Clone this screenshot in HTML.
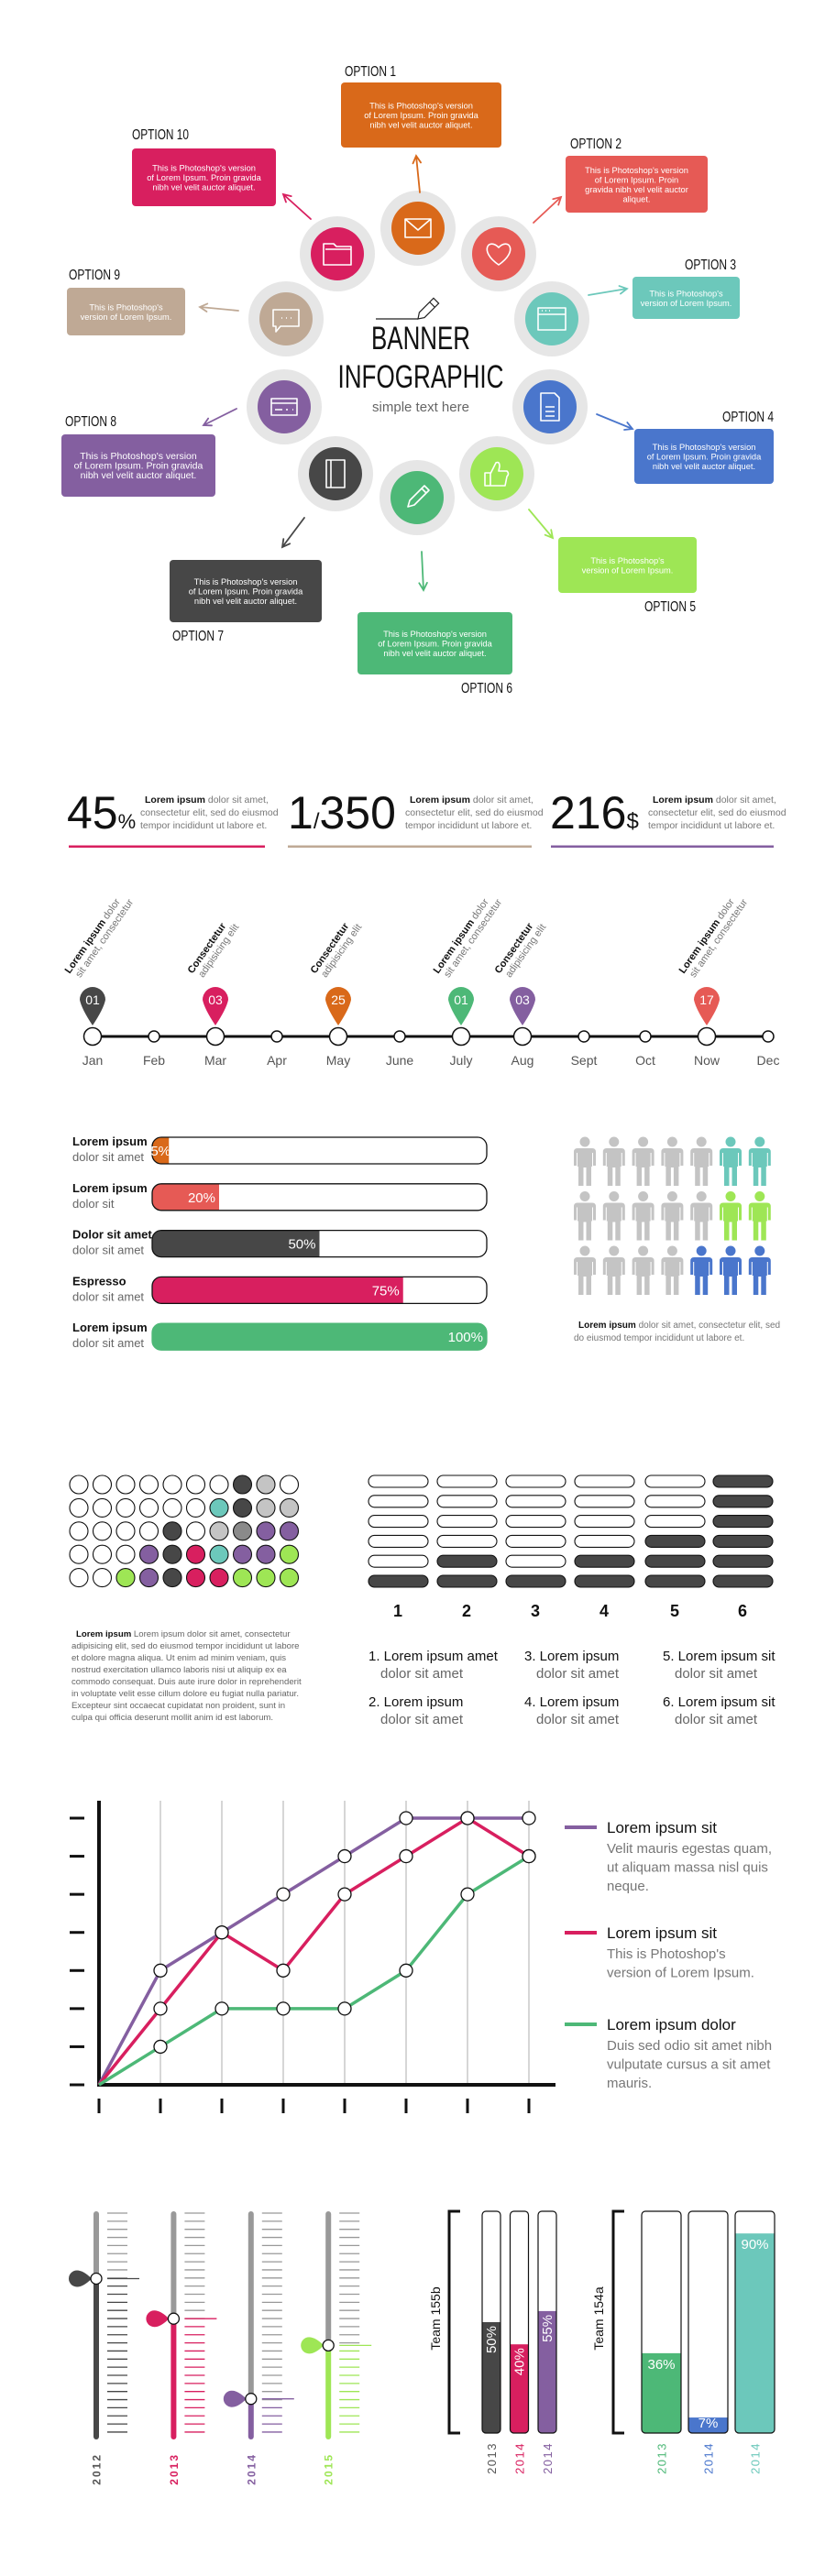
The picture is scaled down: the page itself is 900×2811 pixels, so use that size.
<!DOCTYPE html>
<html><head><meta charset="utf-8"><title>Banner Infographic</title>
<style>
html,body{margin:0;padding:0;background:#fff;}
body{width:900px;height:2811px;overflow:hidden;}
svg{display:block;font-family:"Liberation Sans",sans-serif;}
.nar{font-family:"Liberation Sans Narrow","Liberation Sans",sans-serif;}
</style></head>
<body>
<svg id="root" width="900" height="2811" viewBox="0 0 900 2811" xmlns="http://www.w3.org/2000/svg">
  <g id="s1">
    <line x1="410" y1="348" x2="456" y2="348" stroke="#222" stroke-width="1.2"/>
    <g transform="translate(456,348) rotate(-45)">
      <path d="M0,0 L6,-4 H28 V4 H6 Z M22,-4 V4" fill="#fff" stroke="#222" stroke-width="1.2"/>
    </g>
    <text x="459" y="381" text-anchor="middle" font-size="35" textLength="108" lengthAdjust="spacingAndGlyphs" class="nar" fill="#111">BANNER</text>
    <text x="459" y="423" text-anchor="middle" font-size="35" textLength="181" lengthAdjust="spacingAndGlyphs" class="nar" fill="#111">INFOGRAPHIC</text>
    <text x="459" y="449" text-anchor="middle" font-size="15" fill="#666">simple text here</text>
  </g>
  <g id="s2">
    <text x="73" y="904" font-size="50" fill="#111">45<tspan font-size="22">%</tspan></text>
    <text x="153" y="876" font-size="10.5" fill="#777"><tspan x="158" font-weight="bold" fill="#111">Lorem ipsum</tspan> dolor sit amet,<tspan x="153" y="890">consectetur elit, sed do eiusmod</tspan><tspan x="153" y="904">tempor incididunt ut labore et.</tspan></text>
    <rect x="75" y="922.5" width="214" height="2.5" fill="#d81f5f"/>
    <text x="314" y="904" font-size="50" fill="#111">1<tspan font-size="24">/</tspan>350</text>
    <text x="442" y="876" font-size="10.5" fill="#777"><tspan x="447" font-weight="bold" fill="#111">Lorem ipsum</tspan> dolor sit amet,<tspan x="442" y="890">consectetur elit, sed do eiusmod</tspan><tspan x="442" y="904">tempor incididunt ut labore et.</tspan></text>
    <rect x="314" y="922.5" width="266" height="2.5" fill="#bfa995"/>
    <text x="600" y="904" font-size="50" fill="#111">216<tspan font-size="24">$</tspan></text>
    <text x="707" y="876" font-size="10.5" fill="#777"><tspan x="712" font-weight="bold" fill="#111">Lorem ipsum</tspan> dolor sit amet,<tspan x="707" y="890">consectetur elit, sed do eiusmod</tspan><tspan x="707" y="904">tempor incididunt ut labore et.</tspan></text>
    <rect x="601" y="922.5" width="243" height="2.5" fill="#845fa0"/>
  </g>
  <g id="s3"></g>
  <g id="s4"></g>
  <g id="s5">
    <text x="626" y="1449" font-size="10" fill="#777"><tspan x="631" font-weight="bold" fill="#111">Lorem ipsum</tspan> dolor sit amet, consectetur elit, sed<tspan x="626" y="1463">do eiusmod tempor incididunt ut labore et.</tspan></text>
  </g>
  <g id="s6">
    <text font-size="9.6" fill="#666">
      <tspan x="83" y="1786" font-weight="bold" fill="#111">Lorem ipsum</tspan><tspan> Lorem ipsum dolor sit amet, consectetur</tspan>
      <tspan x="78" y="1799">adipisicing elit, sed do eiusmod tempor incididunt ut labore</tspan>
      <tspan x="78" y="1812">et dolore magna aliqua. Ut enim ad minim veniam, quis</tspan>
      <tspan x="78" y="1825">nostrud exercitation ullamco laboris nisi ut aliquip ex ea</tspan>
      <tspan x="78" y="1838">commodo consequat. Duis aute irure dolor in reprehenderit</tspan>
      <tspan x="78" y="1851">in voluptate velit esse cillum dolore eu fugiat nulla pariatur.</tspan>
      <tspan x="78" y="1864">Excepteur sint occaecat cupidatat non proident, sunt in</tspan>
      <tspan x="78" y="1877">culpa qui officia deserunt mollit anim id est laborum.</tspan>
    </text>
  </g>
  <g id="s7"></g>
  <g id="s8"></g>
  <g id="s9"></g>
  <g id="s10"></g>
</svg>
<script>
const NS='http://www.w3.org/2000/svg';
function mk(p,tag,a,txt){const e=document.createElementNS(NS,tag);for(const k in a)e.setAttribute(k,a[k]);if(txt!==undefined)e.textContent=txt;p.appendChild(e);return e;}
const $=id=>document.getElementById(id);

/* ---------- Section 1: options ring ---------- */
const optColors=['#d9691a','#e65a55','#6cc8bb','#4a76cc','#9ee655','#4db877','#474747','#845fa0','#bfa995','#d81f5f'];
const optCenters=[[456,249],[544,277],[602,348],[600,444],[542,517],[455,543],[366,517],[310,444],[312,348],[368,277]];
const optBoxes=[[372,90,175,71],[617,170,155,62],[690,302,117,46],[692,468,152,60],[609,586,151,61],[390,668,169,68],[185,611,166,68],[67,474,168,68],[73,314,129,52],[144,162,157,63]];
const optLabels=[[376,83],[622,162],[747,294],[788,460],[703,667],[503,756],[188,699],[71,465],[75,305],[144,152]];
const optArrows=[[458,210,454,170],[582,243,612,215],[642,322,684,315],[651,452,690,468],[577,556,603,587],[460,602,462,644],[332,565,308,597],[258,446,222,464],[260,339,218,335],[339,239,309,212]];
const L3=["This is Photoshop's version","of Lorem Ipsum. Proin gravida","nibh vel velit auctor aliquet."];
const L2=["This is Photoshop's","version of Lorem Ipsum."];
const optTexts=[L3,["This is Photoshop's version","of Lorem Ipsum. Proin","gravida nibh vel velit auctor","aliquet."],L2,L3,L2,L3,L3,L3,L2,L3];
const icons=[
 'M-14,-10 H14 V10 H-14 Z M-14,-10 L0,2 L14,-10',
 'M0,12 C-22,-3 -11,-18 0,-7 C11,-18 22,-3 0,12 Z',
 'M-15,-12 H15 V12 H-15 Z M-15,-5 H15 M-11,-9 h1 M-7,-9 h1 M-3,-9 h1',
 'M-10,-15 H5 L10,-10 V15 H-10 Z M-5,0 H5 M-5,5 H5 M-5,10 H5',
 'M-13,-1 H-7 V13 H-13 Z M-7,0 L-1,-12 Q3,-14 3,-8 L2,-3 H11 Q14,0 11,3 L9,13 H-7',
 'M-10,10 L-8,3 L8,-13 L13,-8 L-3,8 Z M5,-10 L10,-5',
 'M-10,-15 H10 V15 H-10 Z M-5,-15 V15',
 'M-14,-9 H14 V9 H-14 Z M-14,-4 H14 M-10,3 H-2 M2,3 H4 M9,3 H10',
 'M-14,-10 H14 V8 H-6 L-11,14 V8 H-14 Z M-5,-1 h1 M0,-1 h1 M5,-1 h1',
 'M-15,-11 H-4 L-1,-8 H15 V12 H-15 Z M-13,-5 H15'];
const s1=$('s1');
for(let i=0;i<10;i++){
  const [cx,cy]=optCenters[i], c=optColors[i];
  const g=mk(s1,'g',{});
  
  
  const o=mk(g,'circle',{cx:cx,cy:cy,r:41,fill:'#e6e6e6'});
  
  
  const ci=mk(g,'circle',{cx:cx,cy:cy,r:29,fill:c});
  
  
  const ic=mk(g,'path',{d:icons[i],transform:`translate(${cx},${cy})`,fill:'none',stroke:'#fff','stroke-width':1.6,'stroke-linejoin':'round'});
  
  
  const [bx,by,bw,bh]=optBoxes[i];
  const b=mk(g,'rect',{x:bx,y:by,width:bw,height:bh,rx:4,fill:c});
  
  
  const lines=optTexts[i], lh=10.5, y0=by+bh/2-(lines.length-1)*lh/2+3.5;
  const t=mk(g,'text',{x:bx+bw/2,y:y0,'text-anchor':'middle','font-size':i===7?10.5:9.3,fill:'#fff',class:'nar'});
  
  
  lines.forEach((ln,k)=>mk(t,'tspan',{x:bx+bw/2,y:y0+k*lh},ln));
  const [lx,ly]=optLabels[i];
  const lb=mk(g,'text',{x:lx,y:ly,'font-size':16,fill:'#111',class:'nar',textLength:i===9?62:56,lengthAdjust:'spacingAndGlyphs'},'OPTION '+(i+1));
  
  
  const [x1,y1,x2,y2]=optArrows[i];
  const ang=Math.atan2(y2-y1,x2-x1), h=9;
  const d=`M${x1},${y1} L${x2},${y2} M${x2-h*Math.cos(ang-0.5)},${y2-h*Math.sin(ang-0.5)} L${x2},${y2} L${x2-h*Math.cos(ang+0.5)},${y2-h*Math.sin(ang+0.5)}`;
  const ar=mk(g,'path',{d:d,fill:'none',stroke:c,'stroke-width':1.8,'stroke-linecap':'round'});
  
  
}

/* ---------- Timeline ---------- */
const months=['Jan','Feb','Mar','Apr','May','June','July','Aug','Sept','Oct','Now','Dec'];
const evMonth=[0,2,4,6,7,10];
const evNum=['01','03','25','01','03','17'];
const evColor=['#474747','#d81f5f','#d9691a','#4db877','#845fa0','#e65a55'];
const evBold=['Lorem ipsum','Consectetur','Consectetur','Lorem ipsum','Consectetur','Lorem ipsum'];
const evRest1=[' dolor','','',' dolor','',' dolor'];
const evLine2=['sit amet, consectetur','adipisicing elit','adipisicing elit','sit amet, consectetur','adipisicing elit','sit amet, consectetur'];
const tl=$('s3'), tx=i=>101+i*(838-101)/11, TY=1131;
const axis=mk(tl,'line',{x1:101,y1:TY,x2:838,y2:TY,stroke:'#111','stroke-width':3});


months.forEach((m,i)=>{
  const big=evMonth.includes(i);
  const c=mk(tl,'circle',{cx:tx(i),cy:TY,r:big?9.5:6,fill:'#fff',stroke:'#111','stroke-width':1.5});
  
  
  const t=mk(tl,'text',{x:tx(i),y:1162,'text-anchor':'middle','font-size':14,fill:'#555'},m);
  
  
});
evMonth.forEach((mi,k)=>{
  const x=tx(mi), cy=1091;
  const p=mk(tl,'path',{d:`M${x-14},${cy} A14,14 0 1 1 ${x+14},${cy} Q${x+12},${cy+10} ${x},${cy+28} Q${x-12},${cy+10} ${x-14},${cy} Z`,fill:evColor[k]});
  
  
  const n=mk(tl,'text',{x:x,y:cy+5,'text-anchor':'middle','font-size':14,fill:'#fff'},evNum[k]);
  
  
  const g=mk(tl,'g',{transform:`translate(${x-25},1063) rotate(-55)`});
  
  
  const t1=mk(g,'text',{x:0,y:0,'font-size':11,fill:'#777'});
  mk(t1,'tspan',{'font-weight':'bold',fill:'#111'},evBold[k]);
  mk(t1,'tspan',{},evRest1[k]);
  mk(g,'text',{x:3,y:12,'font-size':11,fill:'#777'},evLine2[k]);
});

/* ---------- Progress bars ---------- */
const pbValues=[5,20,50,75,100];
const pbColors=['#d9691a','#e65a55','#474747','#d81f5f','#4db877'];
const pbBold=['Lorem ipsum','Lorem ipsum','Dolor sit amet','Espresso','Lorem ipsum'];
const pbLight=['dolor sit amet','dolor sit','dolor sit amet','dolor sit amet','dolor sit amet'];
const pb=$('s4'), PX=166, PW=365, PH=29;
const defs=mk($('root'),'defs',{});
pbValues.forEach((v,i)=>{
  const y=1241+i*50.8;
  const cp=mk(defs,'clipPath',{id:'pbc'+i});
  mk(cp,'rect',{x:PX,y:y,width:PW,height:PH,rx:10});
  const bg=mk(pb,'rect',{x:PX,y:y,width:PW,height:PH,rx:10,fill:'#fff'});
  
  
  const fw=PW*v/100;
  const f=mk(pb,'rect',{x:PX,y:y,width:fw,height:PH,fill:pbColors[i],'clip-path':`url(#pbc${i})`});
  
  
  const br=mk(pb,'rect',{x:PX,y:y,width:PW,height:PH,rx:10,fill:'none',stroke:v===100?pbColors[i]:'#111','stroke-width':1.3});
  
  
  const t=mk(pb,'text',{x:Math.max(PX+fw-4,PX+20),y:y+20,'text-anchor':'end','font-size':15,fill:'#fff'},v+'%');
  
  
  const l1=mk(pb,'text',{x:79,y:y+9,'font-size':13,'font-weight':'bold',fill:'#111',class:'nar'},pbBold[i]);
  
  
  const l2=mk(pb,'text',{x:79,y:y+26,'font-size':13,fill:'#666',class:'nar'},pbLight[i]);
  
  
});

/* ---------- People ---------- */
const peopleRows=[['g','g','g','g','g','t','t'],['g','g','g','g','g','l','l'],['g','g','g','g','b','b','b']];
const peopleColorMap={g:'#c4c4c4',t:'#6cc8bb',l:'#9ee655',b:'#4a76cc'};
const pp=$('s5');
const figD='M0,0.5 a5.5,5.5 0 1 1 0,11 a5.5,5.5 0 1 1 0,-11 Z M-8,13 H8 Q12,13 12,17 V32 H9 V18 H8 V33 H7 V54 H1.5 V34 H-1.5 V54 H-7 V33 H-8 V18 H-9 V32 H-12 V17 Q-12,13 -8,13 Z';
peopleRows.forEach((row,r)=>row.forEach((k,c)=>{
  const p=mk(pp,'path',{d:figD,transform:`translate(${638+c*31.8},${1240+r*59.5})`,fill:peopleColorMap[k]});
  
  
}));

/* ---------- Dot matrix ---------- */
const dotRows=['WWWWWWWDLW','WWWWWWTDLL','WWWWDWLMPP','WWWPDRTPPG','WWGPDRRGGG'];
const dotColorMap={W:'#fff',D:'#474747',L:'#c4c4c4',M:'#8a8a8a',T:'#6cc8bb',P:'#845fa0',R:'#d81f5f',G:'#9ee655'};
const dm=$('s6');
dotRows.forEach((row,r)=>row.split('').forEach((k,c)=>{
  const d=mk(dm,'circle',{cx:86+c*25.5,cy:1620+r*25.4,r:10,fill:dotColorMap[k],stroke:'#111','stroke-width':1.1});
  
  
}));

/* ---------- Pill columns ---------- */
const pillFilled=[1,2,1,2,3,6];
const pillLabels=['1','2','3','4','5','6'];
const pc=$('s7'), pillX=[402,477,552,627,704,778];
pillFilled.forEach((n,c)=>{
  for(let r=0;r<6;r++){
    const filled=(5-r)<n;
    const p=mk(pc,'rect',{x:pillX[c],y:1610+r*21.8,width:65,height:13,rx:6.5,fill:filled?'#474747':'#fff',stroke:'#111','stroke-width':1.1});
    
    
  }
  const t=mk(pc,'text',{x:pillX[c]+32,y:1764,'text-anchor':'middle','font-size':18,'font-weight':'bold',fill:'#111'},pillLabels[c]);
  
  
});
const listT=['1. Lorem ipsum amet','2. Lorem ipsum','3. Lorem ipsum','4. Lorem ipsum','5. Lorem ipsum sit','6. Lorem ipsum sit'];
listT.forEach((s,i)=>{
  const x=[402,572,723][Math.floor(i/2)], y=1812+(i%2)*50;
  const t=mk(pc,'text',{x:x,y:y,'font-size':15,fill:'#111',class:'nar'},s);
  
  
  const t2=mk(pc,'text',{x:x+13,y:y+19,'font-size':15,fill:'#666',class:'nar'},'dolor sit amet');
  
  
});

/* ---------- Line chart ---------- */
const lcPurple=[0,3,4,5,6,7,7,7];
const lcRed=[0,2,4,3,5,6,7,6];
const lcGreen=[0,1,2,2,2,3,5,6];
const lcSeriesColors=['#845fa0','#d81f5f','#4db877'];
const lcTitles=['Lorem ipsum sit','Lorem ipsum sit','Lorem ipsum dolor'];
const lcDesc=[['Velit mauris egestas quam,','ut aliquam massa nisl quis','neque.'],['This is Photoshop\'s','version  of Lorem Ipsum.'],['Duis sed odio sit amet nibh','vulputate cursus a sit amet','mauris.']];
const lc=$('s8');
const X=i=>108+i*67, Y=v=>2275-v*41.57;
for(let i=1;i<8;i++){const g=mk(lc,'line',{x1:X(i),y1:1965,x2:X(i),y2:2275,stroke:'#c8c8c8','stroke-width':1.5});}
for(let v=0;v<=7;v++){const t=mk(lc,'line',{x1:76,y1:Y(v),x2:92,y2:Y(v),stroke:'#111','stroke-width':3});}
for(let i=0;i<8;i++){const t=mk(lc,'line',{x1:X(i),y1:2290,x2:X(i),y2:2306,stroke:'#111','stroke-width':3});}
const ya=mk(lc,'line',{x1:108,y1:1965,x2:108,y2:2277,stroke:'#111','stroke-width':4});

const xa=mk(lc,'line',{x1:106,y1:2275,x2:606,y2:2275,stroke:'#111','stroke-width':4});

[lcPurple,lcRed,lcGreen].forEach((s,k)=>{
  const pl=mk(lc,'polyline',{points:s.map((v,i)=>X(i)+','+Y(v)).join(' '),fill:'none',stroke:lcSeriesColors[k],'stroke-width':3.5,'stroke-linejoin':'round'});
  
  
});
[lcPurple,lcRed,lcGreen].forEach((s,k)=>s.forEach((v,i)=>{if(i===0)return;
  const c=mk(lc,'circle',{cx:X(i),cy:Y(v),r:7,fill:'#fff',stroke:'#111','stroke-width':1.3});
  
  
}));
const legY=[1994,2109,2209];
lcTitles.forEach((tt,k)=>{
  const y=legY[k];
  const ln=mk(lc,'line',{x1:616,y1:y,x2:651,y2:y,stroke:lcSeriesColors[k],'stroke-width':4});
  
  const t=mk(lc,'text',{x:662,y:y+6,'font-size':17,fill:'#111',class:'nar'},tt);
  
  lcDesc[k].forEach((d,j)=>{
    const dd=mk(lc,'text',{x:662,y:y+28+j*20.5,'font-size':15,fill:'#777',class:'nar'},d);
    
  });
});

/* ---------- Sliders ---------- */
const sliderYears=['2012','2013','2014','2015'];
const sliderValues=[71,53,17,41];
const sliderColors=['#474747','#d81f5f','#845fa0','#9ee655'];
const yearLabelColors=['#555','#d81f5f','#845fa0','#9ee655'];
const sl=$('s9'), ST=2416, SB=2659;
sliderValues.forEach((v,i)=>{
  const x=105+i*84.4, ky=SB-(SB-ST)*v/100, c=sliderColors[i];
  const up=mk(sl,'line',{x1:x,y1:ST,x2:x,y2:ky,stroke:'#999','stroke-width':6,'stroke-linecap':'round'});
  
  const lo=mk(sl,'line',{x1:x,y1:ky,x2:x,y2:SB,stroke:c,'stroke-width':6,'stroke-linecap':'round'});
  
  for(let k=0;k<28;k++){
    const ty=2415+k*8.85;
    const tk=mk(sl,'line',{x1:x+12,y1:ty,x2:x+34,y2:ty,stroke:ty>ky+3?c:'#999','stroke-width':1.3});
    
  }
  const lt=mk(sl,'line',{x1:x+12,y1:ky,x2:x+47,y2:ky,stroke:c,'stroke-width':1.3});
  
  const pin=mk(sl,'path',{d:`M${x-5},${ky} Q${x-14},${ky-9} ${x-21},${ky-9} A9,9 0 0 0 ${x-21},${ky+9} Q${x-14},${ky+9} ${x-5},${ky} Z`,fill:c});
  
  const kn=mk(sl,'circle',{cx:x,cy:ky,r:6,fill:'#fff',stroke:'#111','stroke-width':1.3});
  
  const yl=mk(sl,'text',{transform:`translate(${x+4.5},2677) rotate(-90)`,'text-anchor':'end','font-size':12,'font-weight':'bold','letter-spacing':2,fill:yearLabelColors[i]},sliderYears[i]);
  
});

/* ---------- Team bars ---------- */
const teamBValues=[50,40,55];
const teamBColors=['#474747','#d81f5f','#845fa0'];
const teamBYears=['2013','2014','2014'];
const teamBYearColors=['#555','#d81f5f','#845fa0'];
const teamAValues=[36,7,90];
const teamAColors=['#4db877','#4a76cc','#6cc8bb'];
const teamAYears=['2013','2014','2014'];
const tb=$('s10'), BT=2413, BB=2655, BH=BB-BT;
function bracket(x,name){const b=mk(tb,'path',{d:`M${x+12},${BT} H${x} V${BB} H${x+12}`,fill:'none',stroke:'#111','stroke-width':3});}
bracket(490,'team-155b-bracket');bracket(669,'team-154a-bracket');
const tl1=mk(tb,'text',{transform:'translate(480,2530) rotate(-90)','text-anchor':'middle','font-size':14,fill:'#111'},'Team 155b');

const tl2=mk(tb,'text',{transform:'translate(658,2530) rotate(-90)','text-anchor':'middle','font-size':14,fill:'#111'},'Team 154a');

function teamBar(x,w,v,c,yr,yc,rot,idx,team){
  const cp=mk(defs,'clipPath',{id:'tb'+team+idx});
  mk(cp,'rect',{x:x,y:BT,width:w,height:BH,rx:4});
  const bg=mk(tb,'rect',{x:x,y:BT,width:w,height:BH,rx:4,fill:'#fff'});
  
  const top=BB-BH*v/100;
  const f=mk(tb,'rect',{x:x,y:top,width:w,height:BB-top,fill:c,'clip-path':`url(#tb${team}${idx})`});
  
  const br=mk(tb,'rect',{x:x,y:BT,width:w,height:BH,rx:4,fill:'none',stroke:'#111','stroke-width':1.2});
  
  let t;
  if(rot){t=mk(tb,'text',{transform:`translate(${x+w/2+5},${top+4}) rotate(-90)`,'text-anchor':'end','font-size':15,fill:'#fff'},v+'%');}
  else{t=mk(tb,'text',{x:x+w/2,y:Math.min(top+17,BB-6),'text-anchor':'middle','font-size':15,fill:'#fff'},v+'%');}
  
  const y=mk(tb,'text',{transform:`translate(${x+w/2+5},2665) rotate(-90)`,'text-anchor':'end','font-size':13,'letter-spacing':1.5,fill:yc},yr);
  
}
teamBValues.forEach((v,i)=>teamBar(526+i*30.5,20,v,teamBColors[i],teamBYears[i],teamBYearColors[i],true,i,'155b'));
teamAValues.forEach((v,i)=>teamBar(700+i*51,43,v,teamAColors[i],teamAYears[i],teamAColors[i],false,i,'154a'));
</script>
</body></html>
